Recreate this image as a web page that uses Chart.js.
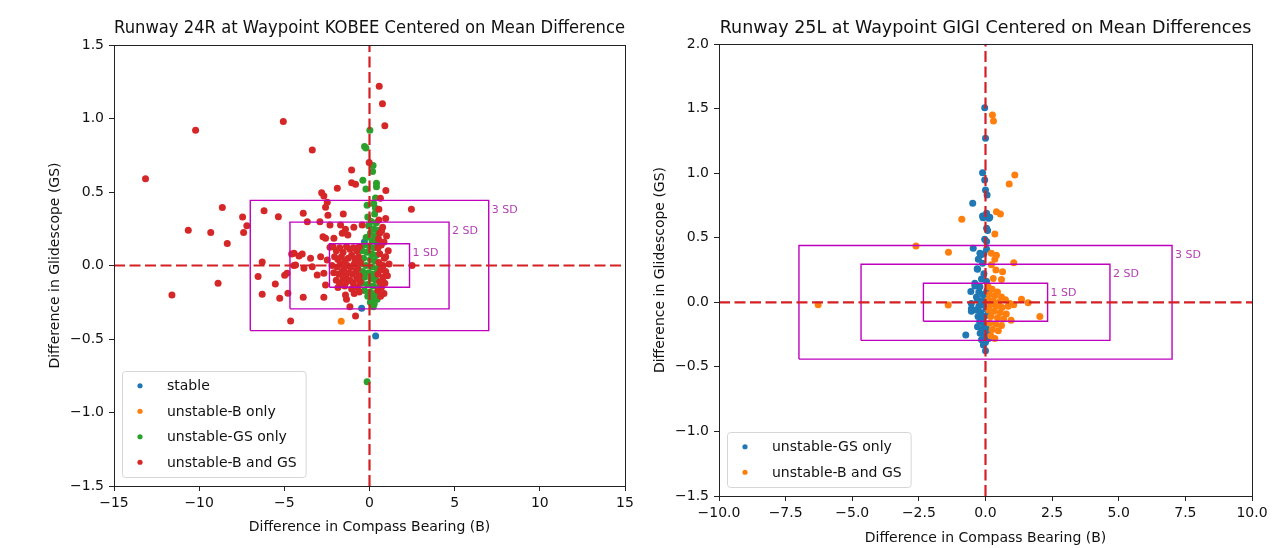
<!DOCTYPE html>
<html>
<head>
<meta charset="utf-8">
<script src="https://cdn.jsdelivr.net/npm/chart.js@4.4.1/dist/chart.umd.min.js"></script>
<style>
  html, body { margin: 0; padding: 0; background: #fff; }
  #wrap { position: relative; width: 1273px; height: 548px; overflow: hidden; }
  canvas { position: absolute; top: 0; }
  #leftChart { left: 0; }
  #rightChart { left: 640px; }
</style>
</head>
<body>
<div id="wrap">
  <canvas id="leftChart" width="640" height="548"></canvas>
  <canvas id="rightChart" width="633" height="548"></canvas>
</div>
<script>
const COLORS = { blue: "#1f77b4", orange: "#ff7f0e", green: "#2ca02c", red: "#d62728" };
const MEAN_LINE = "#d42024";
const BOX_LINE = "#bf00bf";
const BOX_TEXT = "#b23fb2";
const TEXT = "#111";

const leftTitle = "Runway 24R at Waypoint KOBEE Centered on Mean Difference";
const rightTitle = "Runway 25L at Waypoint GIGI Centered on Mean Differences";
const xAxisLabel = "Difference in Compass Bearing (B)";
const yAxisLabel = "Difference in Glidescope (GS)";

const leftSeriesNames = ["stable", "unstable-B only", "unstable-GS only", "unstable-B and GS"];
const rightSeriesNames = ["unstable-GS only", "unstable-B and GS"];

const leftXTicks = [-15, -10, -5, 0, 5, 10, 15];
const leftYTicks = [-1.5, -1.0, -0.5, 0.0, 0.5, 1.0, 1.5];
const rightXTicks = [-10, -7.5, -5, -2.5, 0, 2.5, 5, 7.5, 10];
const rightYTicks = [-1.5, -1.0, -0.5, 0.0, 0.5, 1.0, 1.5, 2.0];

const boxLabels = ["1 SD", "2 SD", "3 SD"];
const leftBoxHalfX = [2.35, 4.67, 7.0];
const leftBoxHalfY = [0.148, 0.295, 0.443];
const rightBoxHalfX = [2.33, 4.67, 7.0];
const rightBoxHalfY = [0.147, 0.295, 0.44];

// ── Left panel (KOBEE) ──

const leftStable = [[0.36, -0.48], [-0.30, 0.16], [-0.46, -0.29]];

const leftBOnly = [[-1.66, -0.38]];

const leftGSOnly = [
  [0.02, 0.92], [-0.29, 0.81], [-0.21, 0.80], [0.21, 0.68], [0.18, 0.64], [-0.39, 0.58],
  [0.41, 0.56], [0.41, 0.535], [-0.21, 0.52], [0.35, 0.46], [0.25, 0.42], [0.35, 0.39],
  [-0.14, 0.41], [-0.10, 0.33], [0.30, 0.35], [0.10, 0.30], [0.40, 0.29], [-0.05, 0.27],
  [0.25, 0.25], [0.45, 0.24], [0.05, 0.22], [0.30, 0.20], [-0.20, 0.19], [0.15, 0.17],
  [0.42, 0.16], [-0.30, 0.14], [0.00, 0.13], [0.28, 0.12], [-0.45, 0.10], [-0.15, 0.09],
  [0.12, 0.08], [0.40, 0.07], [-0.35, 0.05], [0.05, 0.04], [0.30, 0.03], [-0.50, 0.01],
  [-0.20, 0.00], [0.15, -0.01], [0.45, -0.02], [-0.40, -0.04], [-0.05, -0.05], [0.25, -0.06],
  [-0.30, -0.08], [0.08, -0.09], [0.38, -0.10], [-0.45, -0.12], [-0.12, -0.13], [0.20, -0.14],
  [0.50, -0.15], [-0.30, -0.17], [0.02, -0.18], [0.32, -0.19], [-0.10, -0.21], [0.20, -0.22],
  [0.45, -0.23], [0.05, -0.25], [0.28, -0.26], [0.22, -0.28], [-0.14, -0.79],
];

const leftBAndGS = [
  // scattered outliers
  [0.57, 1.22], [0.76, 1.10], [0.90, 0.95], [-13.15, 0.59], [-10.21, 0.92], [-5.06, 0.98],
  [-11.6, -0.20], [-10.64, 0.24], [-9.32, 0.225], [-8.64, 0.395], [-8.35, 0.15], [-8.89, -0.12],
  [-7.45, 0.33], [-7.2, 0.27], [-7.39, 0.225], [-6.19, 0.372], [-5.35, 0.331], [-6.3, 0.023],
  [-6.54, -0.075], [-6.3, -0.195], [-5.53, -0.125], [-5.27, -0.222], [-4.98, -0.066], [-4.84, -0.052],
  [-4.79, -0.188], [-4.63, -0.377], [-4.57, 0.079], [-4.44, 0.0], [-4.14, 0.064],
  [-3.36, 0.786], [-0.02, 0.70], [-1.05, 0.65], [-1.05, 0.563], [-0.82, 0.552], [-1.89, 0.525],
  [0.96, 0.51], [-2.81, 0.495], [-2.68, 0.473], [0.64, 0.457], [0.55, 0.382], [-2.48, 0.43],
  [-2.58, 0.396], [2.46, 0.382], [-1.54, 0.35], [-2.44, 0.341], [-3.89, 0.355],
  [-3.65, 0.298], [-2.91, 0.298], [-2.32, 0.276], [-1.70, 0.276], [-1.41, 0.246], [-0.92, 0.26],
  [-0.43, 0.276], [-2.73, 0.196], [-2.58, 0.185], [-2.09, 0.185], [-1.60, 0.219], [-1.27, 0.208],
  [-2.32, 0.124], [-4.43, 0.083], [-3.95, 0.078], [-3.46, 0.049], [-2.87, 0.06], [-2.48, 0.037],
  [-4.34, 0.003], [-3.85, -0.019], [-3.36, -0.008], [-3.07, -0.065], [-2.68, -0.053], [-2.58, -0.133],
  [-3.89, -0.216], [-2.68, -0.216], [-1.41, -0.2], [-1.35, -0.23], [-1.15, -0.28], [-0.82, -0.344],
  [2.5, 0.0],
  // dense cluster left of the mean line
  [-2.15, 0.13], [-1.95, 0.10], [-1.75, 0.12], [-1.55, 0.09], [-1.35, 0.13], [-1.15, 0.11],
  [-0.95, 0.12], [-0.75, 0.10], [-0.60, 0.13], [-2.05, 0.06], [-1.85, 0.04], [-1.65, 0.06],
  [-1.45, 0.03], [-1.25, 0.05], [-1.05, 0.07], [-0.85, 0.04], [-0.65, 0.06], [-2.20, 0.00],
  [-1.90, -0.01], [-1.70, 0.01], [-1.50, -0.02], [-1.30, 0.00], [-1.10, -0.01], [-0.90, 0.01],
  [-0.70, -0.02], [-0.55, 0.02], [-2.10, -0.05], [-1.80, -0.06], [-1.60, -0.04], [-1.40, -0.07],
  [-1.20, -0.05], [-1.00, -0.06], [-0.80, -0.04], [-0.60, -0.07], [-1.95, -0.10], [-1.75, -0.12],
  [-1.55, -0.09], [-1.35, -0.11], [-1.15, -0.10], [-0.95, -0.12], [-0.75, -0.09], [-0.55, -0.11],
  [-1.85, -0.15], [-1.45, -0.14], [-1.05, -0.16], [-0.70, -0.15], [-0.90, -0.19], [-0.60, -0.18],
  // column right of the mean line
  [0.77, 0.26], [0.71, 0.235], [0.53, 0.18], [0.69, 0.14], [0.87, 0.05], [0.55, 0.31],
  [0.95, 0.32], [0.60, 0.22], [1.00, 0.20], [0.50, 0.12], [0.85, 0.16], [1.10, 0.10],
  [0.60, 0.08], [0.95, 0.06], [0.55, 0.02], [0.80, 0.00], [1.15, 0.01], [0.65, -0.03],
  [0.95, -0.04], [0.50, -0.06], [0.80, -0.08], [1.05, -0.07], [0.60, -0.11], [0.90, -0.12],
  [0.70, -0.15], [0.50, -0.17], [0.85, -0.19], [0.65, -0.21],
];

// ── Right panel (GIGI) ──

const rightGSOnly = [
  [-0.03, 1.507], [0.0, 1.27], [-0.11, 1.004], [-0.03, 0.947], [0.0, 0.87], [0.06, 0.83],
  [-0.48, 0.767], [-0.09, 0.655], [0.13, 0.65], [-0.11, 0.668], [0.04, 0.689], [0.16, 0.658],
  [0.04, 0.573], [0.08, 0.555], [-0.03, 0.488], [0.04, 0.47], [-0.46, 0.418], [-0.21, 0.38],
  [-0.06, 0.375], [0.04, 0.41], [-0.27, 0.333], [-0.11, 0.302], [-0.31, 0.26], [-0.06, 0.22],
  [-0.15, 0.18], [0.04, 0.16], [-0.21, 0.12], [-0.40, 0.127], [-0.55, 0.083], [-0.34, 0.04],
  [-0.74, -0.253], [0.0, -0.375], [-0.53, -0.01], [-0.53, -0.05], [-0.53, -0.07], [-0.40, 0.147],
  [-0.30, 0.255], [-0.18, 0.367],
  [-0.25, 0.08], [-0.10, 0.06], [0.05, 0.09], [-0.30, 0.02], [-0.15, 0.01], [0.00, 0.03],
  [-0.25, -0.03], [-0.08, -0.02], [-0.35, -0.06], [-0.18, -0.08], [0.02, -0.05], [-0.28, -0.11],
  [-0.10, -0.12], [0.05, -0.10], [-0.22, -0.15], [-0.05, -0.17], [-0.30, -0.19], [-0.12, -0.21],
  [0.03, -0.20], [-0.20, -0.24], [-0.05, -0.26], [0.10, -0.25], [-0.15, -0.29], [0.00, -0.31],
  [-0.08, -0.33], [0.12, -0.28],
];

const rightBAndGS = [
  [0.26, 1.45], [0.30, 1.404], [1.10, 0.986], [0.89, 0.916], [0.41, 0.702], [0.56, 0.684],
  [-0.89, 0.643], [0.35, 0.529], [-2.61, 0.436], [-1.39, 0.387], [0.22, 0.38], [0.35, 0.333],
  [0.41, 0.364], [1.06, 0.307], [0.22, 0.29], [0.39, 0.25], [0.64, 0.237], [0.29, 0.185],
  [0.60, 0.177], [-1.40, -0.021], [-6.28, -0.02], [1.35, 0.023], [1.60, -0.003], [2.04, -0.11],
  [0.96, -0.14], [1.06, -0.02], [0.91, -0.01],
  [0.10, 0.12], [0.25, 0.10], [0.45, 0.08], [0.15, 0.06], [0.35, 0.05], [0.60, 0.04],
  [0.10, 0.02], [0.28, 0.01], [0.50, 0.00], [0.75, 0.02], [0.18, -0.02], [0.40, -0.03],
  [0.62, -0.04], [0.85, -0.03], [0.12, -0.06], [0.32, -0.07], [0.55, -0.08], [0.78, -0.09],
  [0.20, -0.11], [0.45, -0.12], [0.68, -0.13], [0.15, -0.16], [0.38, -0.17], [0.60, -0.18],
  [0.25, -0.21], [0.48, -0.22], [0.20, -0.26], [0.35, -0.28],
];

function fmtTick(v, decimals) {
  const s = Math.abs(v).toFixed(decimals);
  return v < -1e-9 ? "\u2212" + s : s;
}

// rectangle outline through the four corners of a box centred on the mean
function boxOutline(hx, hy) {
  return [[-hx, -hy], [hx, -hy], [hx, hy], [-hx, hy], [-hx, -hy]];
}

function pointSet(label, data, color, order) {
  return {
    label, data, order,
    backgroundColor: color,
    borderWidth: 0,
    pointRadius: 3.5,
    pointHoverRadius: 3.5,
    legendColor: color,
  };
}

function lineSet(data, color, width, dash, order) {
  return {
    data, order,
    showLine: true,
    borderColor: color,
    borderWidth: width,
    borderDash: dash,
    pointRadius: 0,
    fill: false,
    tension: 0,
  };
}

// ── Plugins ──

const framePlugin = {
  id: "frame",
  afterDatasetsDraw(chart) {
    const { ctx, chartArea: a } = chart;
    ctx.save();
    ctx.strokeStyle = "#222";
    ctx.lineWidth = 1;
    ctx.strokeRect(Math.round(a.left) + 0.5, Math.round(a.top) + 0.5,
      Math.round(a.right - a.left), Math.round(a.bottom - a.top));
    ctx.restore();
  },
};

const sdLabelPlugin = {
  id: "sdLabels",
  afterDatasetsDraw(chart, args, opts) {
    const { ctx, scales } = chart;
    ctx.save();
    ctx.font = "11px 'DejaVu Sans', sans-serif";
    ctx.fillStyle = BOX_TEXT;
    ctx.textAlign = "left";
    ctx.textBaseline = "top";
    opts.labels.forEach((txt, i) => {
      const x = scales.x.getPixelForValue(opts.halfX[i]) + 3;
      const y = scales.y.getPixelForValue(opts.halfY[i]) + 4;
      ctx.fillText(txt, x, y);
    });
    ctx.restore();
  },
};

const boxLegendPlugin = {
  id: "boxLegend",
  afterDraw(chart) {
    const { ctx, chartArea: a } = chart;
    const sets = chart.data.datasets.filter((d) => d.legendColor);
    sets.sort((p, q) => p.legendIndex - q.legendIndex);
    const rowH = 25.5;
    ctx.save();
    ctx.font = "14px 'DejaVu Sans', sans-serif";
    const textW = Math.max(...sets.map((d) => ctx.measureText(d.label).width));
    const w = 45 + textW + 9;
    const h = sets.length * rowH + 4;
    const left = a.left + 8;
    const top = a.bottom - 9 - h;
    ctx.fillStyle = "rgba(255,255,255,0.8)";
    ctx.strokeStyle = "#d6d6d6";
    ctx.lineWidth = 1;
    ctx.beginPath();
    ctx.roundRect(Math.round(left) + 0.5, Math.round(top) + 0.5, w, h, 3);
    ctx.fill();
    ctx.stroke();
    ctx.textBaseline = "middle";
    ctx.textAlign = "left";
    sets.forEach((d, i) => {
      const cy = top + 2 + rowH / 2 + i * rowH;
      ctx.fillStyle = d.legendColor;
      ctx.beginPath();
      ctx.arc(left + 18, cy, 2.6, 0, Math.PI * 2);
      ctx.fill();
      ctx.fillStyle = TEXT;
      ctx.fillText(d.label, left + 45, cy + 1);
    });
    ctx.restore();
  },
};

// ── Chart ──

function makeChart(canvasId, cfg) {
  const xt = cfg.xTicks, yt = cfg.yTicks;
  return new Chart(document.getElementById(canvasId), {
    type: "scatter",
    data: { datasets: cfg.datasets },
    options: {
      responsive: false,
      animation: false,
      devicePixelRatio: 1,
      events: [],
      layout: { padding: { left: 0, top: 0, right: cfg.padRight, bottom: 0 } },
      plugins: {
        legend: { display: false },
        tooltip: { enabled: false },
        title: {
          display: true,
          text: cfg.title,
          fullSize: false,
          color: TEXT,
          font: { size: 17.5, weight: "normal" },
          padding: { top: cfg.titlePadTop, bottom: cfg.plotTop - cfg.titlePadTop - 21 },
        },
        sdLabels: { labels: boxLabels, halfX: cfg.boxHalfX, halfY: cfg.boxHalfY },
      },
      scales: {
        x: {
          type: "linear",
          min: xt[0],
          max: xt[xt.length - 1],
          afterBuildTicks: (s) => { s.ticks = xt.map((v) => ({ value: v })); },
          afterFit: (s) => { s.height = cfg.xAxisHeight; },
          ticks: {
            callback: (v) => fmtTick(v, cfg.xDecimals),
            autoSkip: false, maxRotation: 0, padding: 4,
            color: TEXT, font: { size: 14 },
          },
          grid: { drawOnChartArea: false, drawTicks: true, tickLength: 5, color: "#222" },
          border: { display: false },
          title: {
            display: true, text: xAxisLabel, color: TEXT, font: { size: 14 },
            padding: { top: 0, bottom: cfg.xTitlePad },
          },
        },
        y: {
          type: "linear",
          min: yt[0],
          max: yt[yt.length - 1],
          afterBuildTicks: (s) => { s.ticks = yt.map((v) => ({ value: v })); },
          afterFit: (s) => { s.width = cfg.yAxisWidth; },
          ticks: {
            callback: (v) => fmtTick(v, 1),
            autoSkip: false, padding: 5,
            color: TEXT, font: { size: 14 },
          },
          grid: { drawOnChartArea: false, drawTicks: true, tickLength: 5, color: "#222" },
          border: { display: false },
          title: {
            display: true, text: yAxisLabel, color: TEXT, font: { size: 14 },
            padding: { top: cfg.yTitlePad, bottom: 0 },
          },
        },
      },
    },
    plugins: [framePlugin, sdLabelPlugin, boxLegendPlugin],
  });
}

Chart.defaults.font.family = "'DejaVu Sans', sans-serif";

function panelDatasets(xTicks, yTicks, boxHalfX, boxHalfY, pointSets) {
  const xMin = xTicks[0], xMax = xTicks[xTicks.length - 1];
  const yMin = yTicks[0], yMax = yTicks[yTicks.length - 1];
  const sets = pointSets.slice();
  boxHalfX.forEach((hx, i) => {
    sets.push(lineSet(boxOutline(hx, boxHalfY[i]), BOX_LINE, 1.4, [], 1));
  });
  sets.push(lineSet([[xMin, 0], [xMax, 0]], MEAN_LINE, 2.2, [11, 4.5], 0));
  sets.push(lineSet([[0, yMin], [0, yMax]], MEAN_LINE, 2.2, [11, 4.5], 0));
  return sets;
}

const leftPoints = [
  pointSet(leftSeriesNames[0], leftStable, COLORS.blue, 5),
  pointSet(leftSeriesNames[1], leftBOnly, COLORS.orange, 4),
  pointSet(leftSeriesNames[2], leftGSOnly, COLORS.green, 3),
  pointSet(leftSeriesNames[3], leftBAndGS, COLORS.red, 2),
];
leftPoints.forEach((d, i) => { d.legendIndex = i; });

const rightPoints = [
  pointSet(rightSeriesNames[0], rightGSOnly, COLORS.blue, 3),
  pointSet(rightSeriesNames[1], rightBAndGS, COLORS.orange, 2),
];
rightPoints.forEach((d, i) => { d.legendIndex = i; });

makeChart("leftChart", {
  title: leftTitle,
  xTicks: leftXTicks, yTicks: leftYTicks, xDecimals: 0,
  boxHalfX: leftBoxHalfX, boxHalfY: leftBoxHalfY,
  datasets: panelDatasets(leftXTicks, leftYTicks, leftBoxHalfX, leftBoxHalfY, leftPoints),
  padRight: 15, plotTop: 45, titlePadTop: 18.4,
  xAxisHeight: 62, yAxisWidth: 114, xTitlePad: 12, yTitlePad: 46.6,
});

makeChart("rightChart", {
  title: rightTitle,
  xTicks: rightXTicks, yTicks: rightYTicks, xDecimals: 1,
  boxHalfX: rightBoxHalfX, boxHalfY: rightBoxHalfY,
  datasets: panelDatasets(rightXTicks, rightYTicks, rightBoxHalfX, rightBoxHalfY, rightPoints),
  padRight: 21, plotTop: 44, titlePadTop: 18.4,
  xAxisHeight: 52, yAxisWidth: 79, xTitlePad: 1.6, yTitlePad: 11.6,
});
</script>
</body>
</html>
